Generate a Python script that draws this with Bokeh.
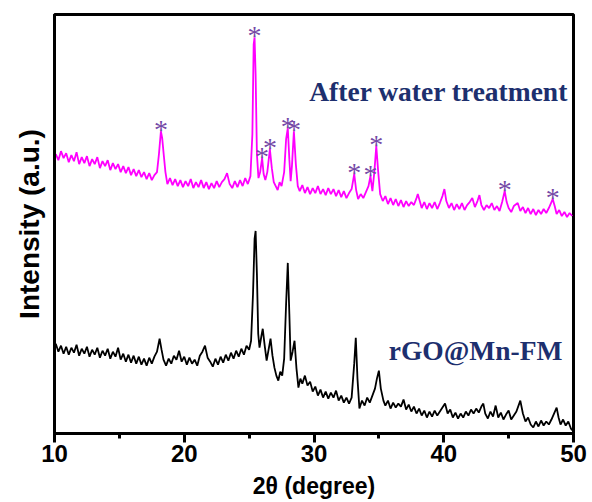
from bokeh.plotting import figure
from bokeh.models import Range1d, SingleIntervalTicker, FixedTicker, Label, ColumnDataSource
from bokeh.core.properties import value
from bokeh.embed import file_html
from bokeh.resources import INLINE

# ---- data (2theta in degrees, intensity in arbitrary units) ----
mag_x = [10.1,10.3,10.5,10.7,10.9,11.1,11.3,11.5,11.7,11.9,12.1,12.3,12.5,12.7,12.9,13.1,13.3,13.5,13.7,13.9,
         14.1,14.3,14.5,14.7,14.9,15.1,15.3,15.5,15.7,15.9,16.1,16.3,16.5,16.7,16.9,17.1,17.3,17.5,17.7,17.9,
         18.05,18.2,18.3,18.4,18.55,18.7,18.9,19.1,19.3,19.5,19.7,19.9,20.1,20.3,20.5,20.7,20.9,21.1,21.3,21.5,
         21.7,21.9,22.1,22.3,22.5,22.7,22.9,23.1,23.3,23.5,23.7,23.9,24.1,24.3,24.5,24.7,24.9,25.1,25.25,25.35,
         25.42,25.5,25.6,25.72,25.85,26.0,26.12,26.25,26.4,26.6,26.75,26.9,27.05,27.2,27.35,27.5,27.7,27.85,27.98,28.1,
         28.2,28.3,28.45,28.6,28.75,28.9,29.1,29.3,29.5,29.7,29.9,30.1,30.3,30.5,30.7,30.9,31.1,31.3,31.5,31.7,
         31.9,32.1,32.3,32.5,32.7,32.9,33.1,33.25,33.4,33.6,33.8,34.0,34.2,34.35,34.5,34.65,34.8,34.95,35.1,35.3,
         35.5,35.7,35.9,36.1,36.3,36.5,36.7,36.9,37.1,37.3,37.5,37.7,37.9,38.0,38.15,38.3,38.5,38.7,38.9,39.1,
         39.3,39.5,39.7,39.9,40.05,40.2,40.4,40.6,40.8,41.0,41.2,41.4,41.6,41.8,42.0,42.2,42.4,42.6,42.75,42.9,
         43.1,43.3,43.5,43.7,43.9,44.1,44.3,44.5,44.7,44.85,45.0,45.2,45.4,45.7,45.9,46.1,46.3,46.5,46.7,46.9,
         47.1,47.3,47.5,47.7,47.9,48.1,48.3,48.4,48.55,48.7,48.9,49.1,49.3,49.5,49.7,49.9]
mag_y = [280,274,283,276,281,272,279,273,282,270,277,271,278,268,275,270,277,266,273,268,
         274,264,271,265,270,262,268,261,267,259,265,258,264,257,262,255,261,254,259,262,
         280,303,296,282,262,250,256,249,255,248,254,247,253,248,255,246,252,247,254,246,
         252,245,251,246,253,247,252,255,261,250,246,253,247,254,248,256,250,258,300,390,
         397,360,280,256,262,276,260,254,262,285,266,252,248,244,252,248,262,295,306,275,
         253,268,303,270,248,243,249,241,247,240,246,241,248,240,245,239,246,240,245,238,
         244,237,243,236,241,245,260,244,235,240,236,242,248,258,243,262,288,262,240,233,
         238,230,236,229,235,228,234,227,233,228,232,229,236,240,233,226,232,225,231,226,
         232,225,231,238,245,233,226,231,224,230,225,231,224,229,232,236,227,233,239,229,
         224,229,226,231,224,228,223,232,243,232,226,222,228,231,223,227,221,226,220,225,
         219,224,220,225,221,226,232,235,228,220,224,218,222,217,221,218]

blk_x = [10.1,10.3,10.5,10.7,10.9,11.1,11.3,11.5,11.7,11.9,12.1,12.3,12.5,12.7,12.9,13.1,13.3,13.5,13.7,13.9,
         14.1,14.3,14.5,14.7,14.9,15.1,15.3,15.5,15.7,15.9,16.1,16.3,16.5,16.7,16.9,17.1,17.3,17.5,17.7,17.9,
         18.1,18.25,18.4,18.6,18.8,19.0,19.2,19.4,19.6,19.8,20.0,20.2,20.4,20.6,20.8,21.0,21.2,21.4,21.6,21.8,
         22.0,22.2,22.4,22.6,22.8,23.0,23.2,23.4,23.6,23.8,24.0,24.2,24.4,24.6,24.8,25.0,25.15,25.3,25.42,25.5,
         25.6,25.7,25.8,25.95,26.05,26.2,26.35,26.5,26.65,26.8,26.95,27.1,27.25,27.4,27.55,27.7,27.85,27.98,28.1,28.2,
         28.35,28.5,28.65,28.8,28.95,29.1,29.3,29.5,29.7,29.9,30.1,30.3,30.5,30.7,30.9,31.1,31.3,31.5,31.7,31.9,
         32.1,32.3,32.5,32.7,32.9,33.1,33.22,33.35,33.5,33.7,33.9,34.1,34.3,34.5,34.7,34.85,35.0,35.15,35.35,35.5,
         35.7,35.9,36.1,36.3,36.5,36.7,36.9,37.1,37.3,37.5,37.7,37.9,38.1,38.3,38.5,38.7,38.9,39.1,39.3,39.5,
         39.7,39.9,40.1,40.3,40.5,40.7,40.9,41.1,41.3,41.5,41.7,41.9,42.1,42.3,42.5,42.7,42.9,43.05,43.2,43.4,
         43.6,43.8,44.0,44.2,44.4,44.6,44.8,45.0,45.2,45.4,45.6,45.9,46.1,46.3,46.5,46.7,46.9,47.1,47.3,47.5,
         47.7,47.9,48.1,48.3,48.5,48.7,48.85,49.0,49.2,49.4,49.6,49.8,49.95]
blk_y = [90,82,88,80,87,79,86,81,89,78,85,80,87,77,84,79,86,76,83,78,
         85,75,82,77,86,74,80,72,79,71,78,70,77,69,75,68,76,70,77,82,
         95,84,74,68,75,70,78,74,83,72,77,69,76,70,74,68,78,82,88,76,
         72,67,75,69,77,71,79,73,81,75,83,77,85,79,88,84,93,140,195,203,
         160,100,86,98,105,88,73,84,95,78,66,58,53,62,58,75,130,171,120,73,
         82,93,65,46,55,50,58,48,52,42,47,38,44,36,42,35,41,36,43,33,
         38,31,36,30,36,70,96,55,25,33,28,36,31,38,45,55,63,45,33,28,
         33,25,31,26,30,27,34,24,29,22,27,20,25,18,23,16,22,17,23,18,
         22,26,30,20,24,16,21,15,20,16,22,18,24,20,25,21,27,30,20,15,
         22,17,28,16,21,14,19,23,14,18,22,33,20,12,16,9,6,12,7,13,
         8,12,9,14,20,26,16,9,14,8,12,5,3]

# marked reflections of the treated sample (position, peak height)
star_x = [18.2, 25.42, 26.0, 26.6, 27.98, 28.45, 33.1, 34.35, 34.8, 44.7, 48.4]
star_y = [303, 397, 276, 285, 306, 303, 260, 258, 288, 243, 235]

x_ticks_interval = 10
x_label = "2\u03b8 (degree)"
y_label = "Intensity (a.u.)"
label_top = "After water treatment"
label_bottom = "rGO@Mn-FM"

p = figure(width=592, height=502, output_backend="svg", toolbar_location=None,
           x_range=Range1d(10, 50), y_range=Range1d(0, 420),
           min_border_left=54, min_border_right=19, min_border_top=14, min_border_bottom=69)
p.background_fill_color = "white"
p.border_fill_color = "white"
p.grid.visible = False
p.outline_line_color = "black"
p.outline_line_width = 3

p.line(blk_x, blk_y, line_color="black", line_width=1.8)
p.line(mag_x, mag_y, line_color="#ff00ff", line_width=1.8)

src = ColumnDataSource(dict(x=star_x, y=star_y, t=["*"] * len(star_x)))
p.text(x="x", y="y", text="t", source=src, text_font=value("Liberation Serif"),
       text_font_size="28px", text_color="#7448a6", text_align="center",
       text_baseline="middle", y_offset=-2)

p.add_layout(Label(x=49.6, y=343, text=label_top, text_font="Liberation Serif",
                   text_font_style="bold", text_font_size="27.5px", text_color="#1d2f6e",
                   text_align="right", text_baseline="middle"))
p.add_layout(Label(x=49.15, y=83, text=label_bottom, text_font="Liberation Serif",
                   text_font_style="bold", text_font_size="27.5px", text_color="#1d2f6e",
                   text_align="right", text_baseline="middle"))

xa = p.xaxis[0]
xa.ticker = SingleIntervalTicker(interval=x_ticks_interval, num_minor_ticks=2)
xa.axis_label = x_label
xa.axis_line_width = 3
xa.major_tick_line_width = 3
xa.minor_tick_line_width = 3
xa.major_tick_out = 9
xa.major_tick_in = 0
xa.minor_tick_out = 5
xa.minor_tick_in = 0
xa.major_label_text_color = "black"
xa.major_label_text_font = "Liberation Sans"
xa.major_label_text_font_style = "bold"
xa.major_label_text_font_size = "24px"
xa.major_label_standoff = 2
xa.axis_label_text_color = "black"
xa.axis_label_text_font = "Liberation Sans"
xa.axis_label_text_font_style = "bold"
xa.axis_label_text_font_size = "23px"
xa.axis_label_standoff = 8

ya = p.yaxis[0]
ya.ticker = FixedTicker(ticks=[])
ya.axis_label = y_label
ya.axis_line_width = 3
ya.axis_label_text_color = "black"
ya.axis_label_text_font = "Liberation Sans"
ya.axis_label_text_font_style = "bold"
ya.axis_label_text_font_size = "28px"
ya.axis_label_standoff = 10

open("out.html", "w").write(file_html(p, INLINE))
